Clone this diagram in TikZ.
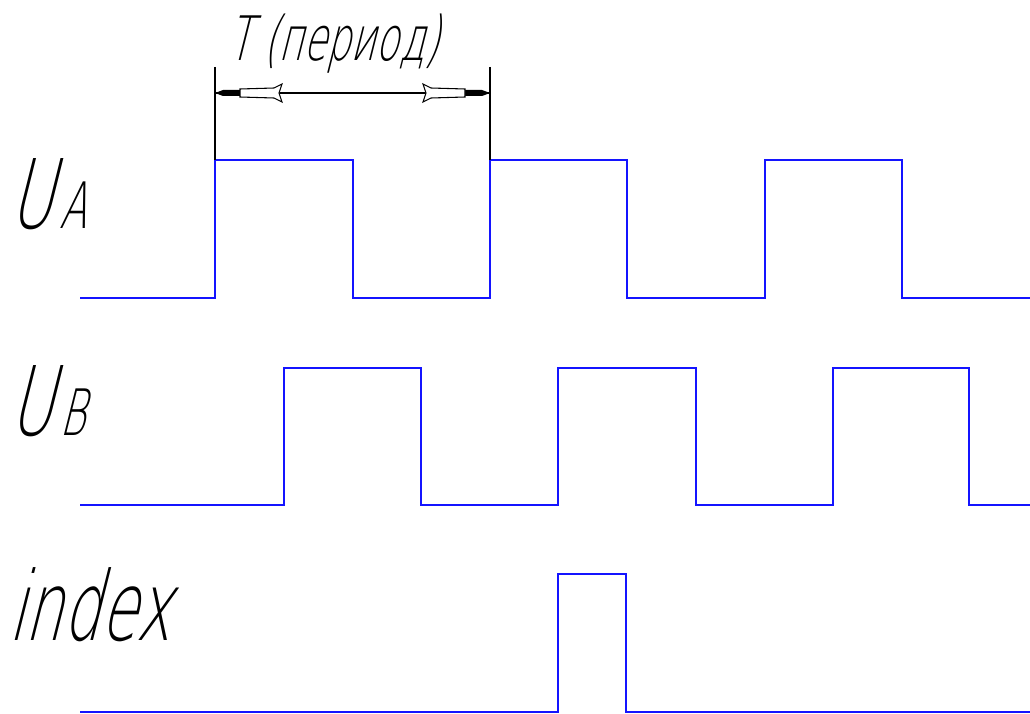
\documentclass[tikz,border=0pt]{standalone}
\usepackage{fontspec}
\usetikzlibrary{calc}
\newfontfamily\gost[FakeSlant=0.25,FakeStretch=0.62]{DejaVu Sans ExtraLight}
\definecolor{wave}{RGB}{20,20,255}
\tikzset{
  signal/.style={wave,line width=2pt,line join=miter},
  dimline/.style={black,line width=0.8pt},
  lbl/.style={inner sep=0pt,anchor=base west,font=\gost},
}
\begin{document}
\begin{tikzpicture}[x=0.75pt,y=-0.75pt]
  \useasboundingbox (0,0) rectangle (1030,713);
  % signals
  \draw[signal] (80,298) -- (215,298) -- (215,160) -- (353,160) -- (353,298) -- (490,298)
    -- (490,160) -- (627,160) -- (627,298) -- (765,298) -- (765,160) -- (902,160)
    -- (902,298) -- (1030,298);
  \draw[signal] (80,505) -- (284,505) -- (284,368) -- (421,368) -- (421,505) -- (558,505)
    -- (558,368) -- (696,368) -- (696,505) -- (833,505) -- (833,368) -- (969,368)
    -- (969,505) -- (1030,505);
  \draw[signal] (80,712) -- (558,712) -- (558,574) -- (626,574) -- (626,712) -- (1030,712);
  % labels
  \node[lbl,font=\gost\fontsize{72}{72}\selectfont] (ua) at (9,228) {U\kern5pt{\fontsize{48}{48}\selectfont A}};
  \node[lbl,font=\gost\fontsize{72}{72}\selectfont] (ub) at (9,435) {U\kern5pt{\fontsize{48}{48}\selectfont B}};
  \node[lbl,font=\gost\fontsize{72}{72}\selectfont] (idx) at (8,640) {index};
  % dimension
  \coordinate (e1) at (215,67);
  \coordinate (e2) at (490,67);
  \coordinate (d1) at (215,93);
  \coordinate (d2) at (490,93);
  \draw[dimline] (e1) -- (215,160);
  \draw[dimline] (e2) -- (490,160);
  \draw[dimline] (d1) -- (d2);
  \foreach \s/\p in {1/d1,-1/d2}
    {
      \fill[black] (\p) -- ++(8*\s,-3) -- ++(17*\s,0) -- ++(0,6) -- ++(-17*\s,0) -- cycle;
      \draw[dimline,fill=white] ($(\p)+(25*\s,-4)$) -- ++(34*\s,-1) -- ++(8*\s,-4) -- ++(-3*\s,9)
        -- ++(3*\s,9) -- ++(-8*\s,-4) -- ++(-34*\s,-1) -- cycle;
    }
  \node[lbl,font=\gost\fontsize{46}{46}\selectfont] (per) at (228,61) {T (период)};
\end{tikzpicture}
\end{document}
